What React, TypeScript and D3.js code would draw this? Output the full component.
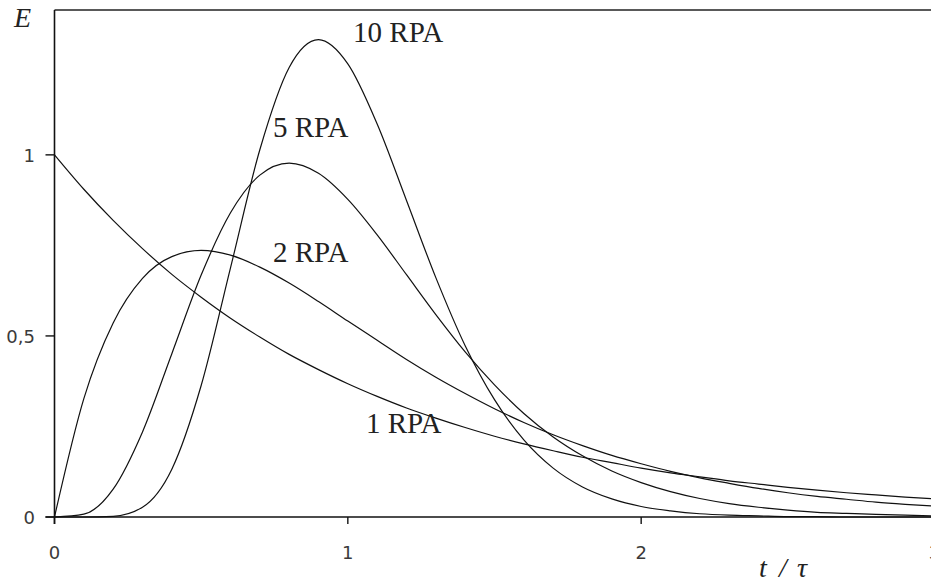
import React from "react";
import * as d3 from "d3";

// θ = t/τ sampled every 0.1 from 0 to 3
const theta: number[] = [
  0, 0.1, 0.2, 0.3, 0.4, 0.5, 0.6, 0.7, 0.8, 0.9, 1.0, 1.1, 1.2, 1.3, 1.4, 1.5,
  1.6, 1.7, 1.8, 1.9, 2.0, 2.1, 2.2, 2.3, 2.4, 2.5, 2.6, 2.7, 2.8, 2.9, 3.0,
];

const rpa1: number[] = [
  1.0, 0.905, 0.819, 0.741, 0.67, 0.607, 0.549, 0.497, 0.449, 0.407, 0.368,
  0.333, 0.301, 0.273, 0.247, 0.223, 0.202, 0.183, 0.165, 0.15, 0.135, 0.122,
  0.111, 0.1, 0.091, 0.082, 0.074, 0.067, 0.061, 0.055, 0.05,
];

const rpa2: number[] = [
  0, 0.327, 0.536, 0.659, 0.719, 0.736, 0.723, 0.69, 0.646, 0.595, 0.541,
  0.488, 0.435, 0.386, 0.341, 0.299, 0.261, 0.227, 0.197, 0.17, 0.147, 0.126,
  0.108, 0.093, 0.079, 0.067, 0.057, 0.049, 0.041, 0.035, 0.03,
];

const rpa5: number[] = [
  0, 0.008, 0.077, 0.235, 0.451, 0.668, 0.84, 0.944, 0.977, 0.949, 0.877,
  0.779, 0.669, 0.559, 0.456, 0.365, 0.286, 0.221, 0.169, 0.127, 0.095, 0.07,
  0.051, 0.037, 0.027, 0.019, 0.013, 0.01, 0.007, 0.005, 0.003,
];

const rpa10: number[] = [
  0, 0, 0.002, 0.027, 0.132, 0.363, 0.688, 1.014, 1.241, 1.318, 1.251, 1.085,
  0.874, 0.661, 0.473, 0.324, 0.213, 0.135, 0.083, 0.05, 0.029, 0.017, 0.009,
  0.005, 0.003, 0.001, 0.001, 0, 0, 0, 0,
];

const seriesNames: string[] = ["1 RPA", "2 RPA", "5 RPA", "10 RPA"];
const seriesValues: number[][] = [rpa1, rpa2, rpa5, rpa10];
// label anchors in data units (θ, E)
const labelTheta: number[] = [1.062, 0.745, 0.745, 1.018];
const labelE: number[] = [0.232, 0.704, 1.05, 1.312];

const xTicks: number[] = [0, 1, 2, 3];
const xTickLabels: string[] = ["0", "1", "2", "3"];
const yTicks: number[] = [0, 0.5, 1];
const yTickLabels: string[] = ["0", "0,5", "1"];

const W = 931;
const H = 584;

export default function App() {
  const x = d3.scaleLinear().domain([0, 3]).range([54.5, 934.5]);
  const y = d3.scaleLinear().domain([0, 1.4]).range([517, 10]);
  const line = d3
    .line<[number, number]>()
    .x((d) => x(d[0]))
    .y((d) => y(d[1]))
    .curve(d3.curveMonotoneX);

  const x0 = x(0);
  const y0 = y(0);
  const serif = "'Liberation Serif', 'Times New Roman', serif";
  const sans = "'DejaVu Sans', Verdana, sans-serif";

  return (
    <svg
      width={W}
      height={H}
      style={{ position: "absolute", left: 0, top: 0, background: "#fff" }}
    >
      <rect x={0} y={0} width={W} height={H} fill="#fff" />
      {/* curves */}
      {seriesValues.map((vals, i) => (
        <path
          key={seriesNames[i]}
          d={line(theta.map((t, j) => [t, vals[j]] as [number, number])) || ""}
          fill="none"
          stroke="#111"
          strokeWidth={1.2}
        />
      ))}
      {/* frame: top, left, bottom */}
      <line x1={x0} x2={W} y1={y(1.4)} y2={y(1.4)} stroke="#222" strokeWidth={1.6} />
      <line x1={x0} x2={x0} y1={y(1.4)} y2={y0 + 7} stroke="#111" strokeWidth={1.6} />
      <line x1={x0 - 9} x2={W} y1={y0} y2={y0} stroke="#111" strokeWidth={1.6} />
      {/* y ticks */}
      {yTicks.map((v, i) => (
        <g key={"y" + v}>
          <line x1={x0 - 9} x2={x0} y1={y(v)} y2={y(v)} stroke="#111" strokeWidth={1.4} />
          <text
            x={35}
            y={y(v) + 7}
            textAnchor="end"
            fontFamily={sans}
            fontSize={18}
            fill="#3a3a3a"
          >
            {yTickLabels[i]}
          </text>
        </g>
      ))}
      {/* x ticks */}
      {xTicks.map((v, i) => (
        <g key={"x" + v}>
          <line x1={x(v)} x2={x(v)} y1={y0} y2={y0 + 7} stroke="#111" strokeWidth={1.4} />
          <text
            x={x(v)}
            y={559}
            textAnchor="middle"
            fontFamily={sans}
            fontSize={18}
            fill="#3a3a3a"
          >
            {xTickLabels[i]}
          </text>
        </g>
      ))}
      {/* series labels */}
      {seriesNames.map((n, i) => (
        <text
          key={"l" + n}
          x={x(labelTheta[i])}
          y={y(labelE[i])}
          fontFamily={serif}
          fontSize={29}
          fill="#222"
        >
          {n}
        </text>
      ))}
      {/* axis titles */}
      <text x={14} y={27} fontFamily={serif} fontStyle="italic" fontSize={28} fill="#222">
        E
      </text>
      <text y={577} fontFamily={serif} fontStyle="italic" fontSize={28} fill="#222">
        <tspan x={759}>t</tspan>
        <tspan x={779}>/</tspan>
        <tspan x={797}>τ</tspan>
      </text>
    </svg>
  );
}
